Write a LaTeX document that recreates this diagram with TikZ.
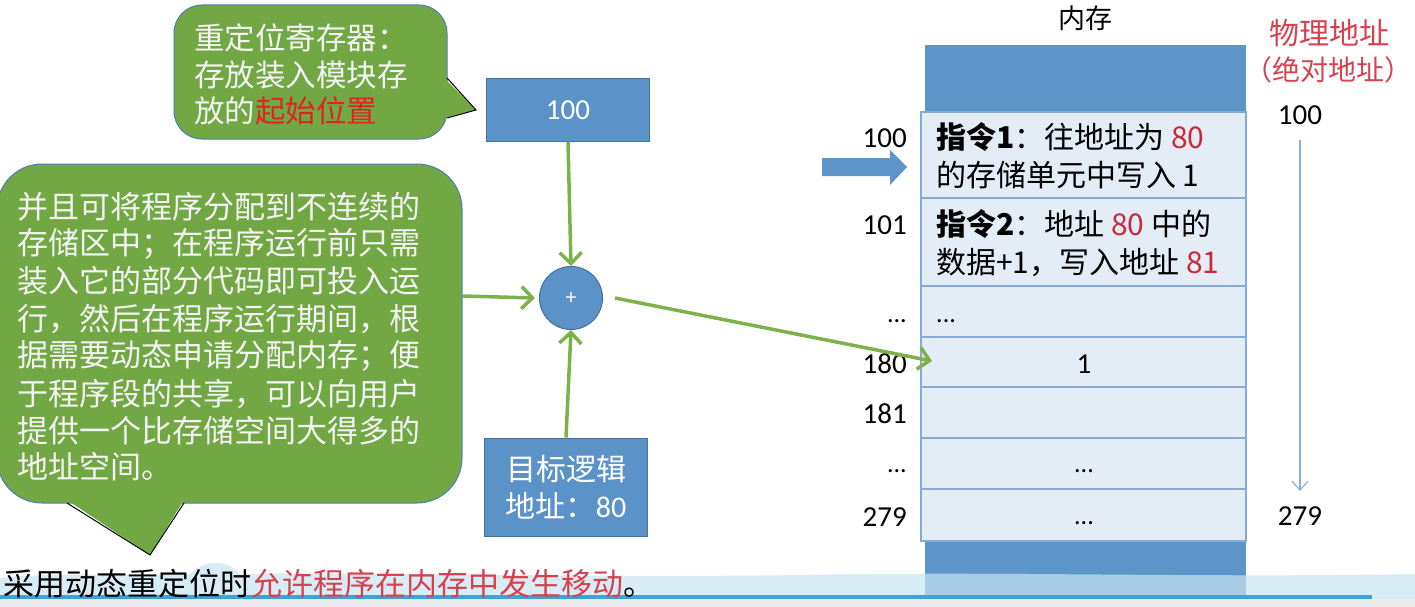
\documentclass[tikz,border=0pt]{standalone}
\usepackage{fontspec}
\setmainfont{Noto Sans CJK SC}
\newfontfamily\lat{Carlito}
\usetikzlibrary{arrows.meta}
\definecolor{notegreen}{HTML}{71A844}
\definecolor{noteline}{HTML}{4F7EB3}
\definecolor{notetext}{HTML}{F4F4F4}
\definecolor{boxblue}{HTML}{5B92C8}
\definecolor{boxline}{HTML}{41719C}
\definecolor{memblue}{HTML}{5E95C8}
\definecolor{cellfill}{HTML}{E4ECF6}
\definecolor{cellline}{HTML}{86AAD6}
\definecolor{arrowgreen}{HTML}{7DB24A}
\definecolor{hot}{HTML}{E02424}
\definecolor{numred}{HTML}{C8283A}
\definecolor{capred}{HTML}{D8404E}
\definecolor{thinblue}{HTML}{8AB0D8}
\definecolor{wave}{HTML}{C6E4F1}
\definecolor{bar}{HTML}{3DA2DA}
\newcommand{\fs}[1]{\fontsize{#1}{#1}\selectfont}
\begin{document}
\begin{tikzpicture}[x=1pt,y=-1pt,
  noteline/.style={text=notetext, anchor=west, inner sep=0pt, font=\fs{30.5}},
  bluebox/.style={draw=boxline, fill=boxblue, line width=1pt, text=white, align=center, inner sep=0pt},
  cell/.style={draw=cellline, fill=cellfill, line width=1.5pt},
  celltext/.style={anchor=west, inner sep=0pt, font=\fs{30}},
  lbl/.style={anchor=base east, inner sep=0pt, font=\lat\fs{29}},
  garrow/.style={draw=arrowgreen, line width=3.5pt, -{Straight Barb[length=11pt,width=22pt,line width=3.5pt]}},
  callout/.style={fill=notegreen, draw=noteline, line width=1pt}
]
\useasboundingbox (0,0) rectangle (1415,607);

% ---------- callouts ----------
\draw[callout, rounded corners=28pt] (174,5) rectangle (447,139);
\fill[notegreen] (444,78) -- (476,110) -- (444,118) -- cycle;
\draw[noteline, line width=1pt] (447,78) -- (476,110) -- (447,118);

\draw[callout, rounded corners=45pt] (-3,164) rectangle (462,503);
\fill[notegreen] (67,500) -- (150,555) -- (184,500) -- cycle;
\draw[noteline, line width=1pt] (67,503) -- (150,555) -- (184,503);

\node[noteline] (n1) at (194,38) {重定位寄存器：};
\node[noteline] (n2) at (194,75) {存放装入模块存};
\node[noteline] (n3) at (194,111) {放的{\color{hot}起始位置}};

\node[noteline, font=\fs{31}] (b1) at (17,207) {并且可将程序分配到不连续的};
\node[noteline, font=\fs{31}] (b2) at (17,244) {存储区中；在程序运行前只需};
\node[noteline, font=\fs{31}] (b3) at (17,281) {装入它的部分代码即可投入运};
\node[noteline, font=\fs{31}] (b4) at (17,319) {行，然后在程序运行期间，根};
\node[noteline, font=\fs{31}] (b5) at (17,356) {据需要动态申请分配内存；便};
\node[noteline, font=\fs{31}] (b6) at (17,394) {于程序段的共享，可以向用户};
\node[noteline, font=\fs{31}] (b7) at (17,431) {提供一个比存储空间大得多的};
\node[noteline, font=\fs{31}] (b8) at (17,467) {地址空间。};
\coordinate (bigR) at (463,296);

% ---------- boxes and adder ----------
\node[bluebox, minimum width=163pt, minimum height=62pt, font=\lat\fs{29}] (reg) at (568,110) {100};
\node[bluebox, minimum width=163pt, minimum height=98pt, font=\fontsize{30}{37}\selectfont] (target) at (566,487)
  {目标逻辑\\地址：{\lat 80}};
\node[circle, draw=boxline, fill=boxblue, line width=1pt, minimum size=63pt, inner sep=0pt,
  text=white, font=\lat\fs{22}] (plus) at (571,298) {+};

% ---------- memory ----------
\node[font=\fs{27}] (memtitle) at (1085,18) {内存};
\fill[memblue] (925,45) rectangle (1246,607);
\draw[cell] (921,112) rectangle (1246,198);
\draw[cell] (921,198) rectangle (1246,286);
\draw[cell] (921,286) rectangle (1246,337);
\draw[cell] (921,337) rectangle (1246,387);
\draw[cell] (921,387) rectangle (1246,438);
\draw[cell] (921,438) rectangle (1246,489);
\draw[cell] (921,489) rectangle (1246,541);

\node[celltext] (c1a) at (936,137) {\textbf{指令1}：往地址为 {\color{numred}80}};
\node[celltext] (c1b) at (936,175) {的存储单元中写入 1};
\node[celltext] (c2a) at (936,224) {\textbf{指令2}：地址 {\color{numred}80} 中的};
\node[celltext] (c2b) at (936,262) {数据+1，写入地址 {\color{numred}81}};
\node[anchor=base west, inner sep=0pt, font=\lat\fs{26}] (c3) at (936,322) {...};
\node[anchor=base, inner sep=0pt, font=\lat\fs{29}] (c4) at (1084,373) {1};
\node[anchor=base, inner sep=0pt, font=\lat\fs{26}] (c6) at (1084,472) {...};
\node[anchor=base, inner sep=0pt, font=\lat\fs{26}] (c7) at (1084,524) {...};
\coordinate (t180) at (932,361);

% left address labels
\node[lbl] (a100) at (907,147) {100};
\node[lbl] (a101) at (907,234) {101};
\node[lbl, font=\lat\fs{26}] (ad1) at (907,322) {...};
\node[lbl] (a180) at (907,373) {180};
\node[lbl] (a181) at (907,423) {181};
\node[lbl, font=\lat\fs{26}] (ad2) at (907,472) {...};
\node[lbl] (a279) at (907,526) {279};

% pointer arrow
\fill[memblue] (822,158) -- (890,158) -- (890,150) -- (907,167) -- (890,185) -- (890,176) -- (822,176) -- cycle;

% physical address column
\node[text=capred, font=\fs{30}] (phys1) at (1329,33) {物理地址};
\node[text=capred, font=\fs{28}] (phys2) at (1328,70) {（绝对地址）};
\node[font=\lat\fs{29}] (p100) at (1300,115) {100};
\node[font=\lat\fs{29}] (p279) at (1300,516) {279};
\draw[thinblue, line width=1.2pt, -{Straight Barb[length=9pt,width=16pt,line width=1.2pt]},
  shorten <=12pt, shorten >=12pt] (p100) -- (p279);

% ---------- green arrows ----------
\draw[garrow] (reg.south) -- (plus.north);
\draw[garrow] (bigR) -- ([xshift=-4pt]plus.west);
\draw[garrow] (target.north) -- (plus.south);
\draw[garrow] ([xshift=12pt]plus.east) -- (t180);

% ---------- bottom band ----------
\fill[wave, opacity=0.7] (0,578) .. controls (60,572) and (120,576) .. (190,574)
  .. controls (205,560) and (225,558) .. (240,574)
  .. controls (400,572) and (600,578) .. (800,575)
  .. controls (1000,571) and (1200,578) .. (1415,574) -- (1415,599) -- (0,599) -- cycle;
\fill[bar] (0,595) rectangle (1372,599);
\fill[black!8] (0,599) rectangle (1415,607);
\node[anchor=west, inner sep=0pt, font=\fs{31}] (caption) at (3,584)
  {采用动态重定位时{\color{capred}允许程序在内存中发生移动}。};
\end{tikzpicture}
\end{document}
